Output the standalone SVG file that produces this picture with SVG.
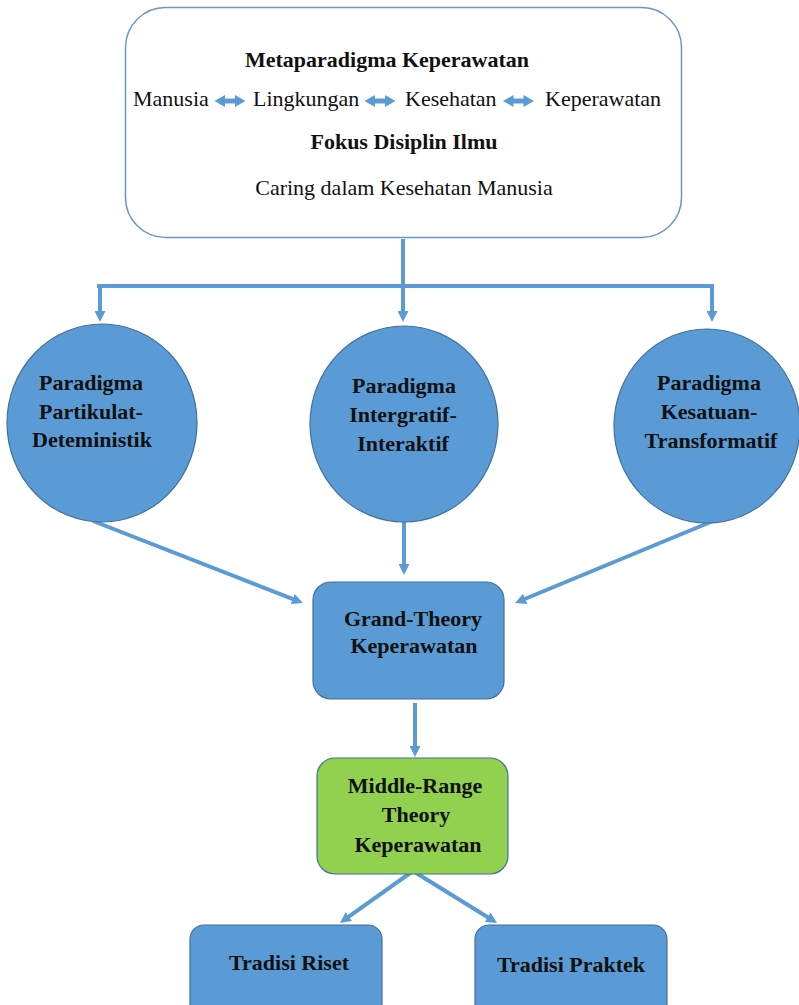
<svg xmlns="http://www.w3.org/2000/svg" width="799" height="1005" viewBox="0 0 799 1005">
<style>
.t{font-family:'Liberation Serif','Tinos','Times New Roman','DejaVu Serif',serif;font-size:22px;fill:#111}
.b{font-weight:bold}
.c{text-anchor:middle}
.box{fill:#5b9bd5;stroke:#41719c;stroke-width:1.2}
.green{fill:#92d050;stroke:#41719c;stroke-width:1.2}
.conn{stroke:#5b9bd5;stroke-width:4;fill:none}
.arr{marker-end:url(#ah)}
</style>
<defs>
<marker id="ah" viewBox="0 0 10 10" markerWidth="11" markerHeight="11" refX="4" refY="5" orient="auto" markerUnits="userSpaceOnUse">
<path d="M0,0 L10,5 L0,10 z" fill="#5b9bd5"/>
</marker>
<path id="dbl" d="M-15.5,0 L-5,-6 L-5,-2.5 L5,-2.5 L5,-6 L15.5,0 L5,6 L5,2.5 L-5,2.5 L-5,6 z" fill="#5b9bd5"/>
</defs>
<rect width="799" height="1005" fill="#fff"/>

<g id="meta">
<rect x="125.5" y="7.5" width="556" height="230" rx="40" ry="40" fill="#fff" stroke="#6a95c9" stroke-width="1.5"/>
<text class="t b c" x="387" y="67" font-family="Liberation Serif, serif">Metaparadigma Keperawatan</text>
<text class="t" x="133" y="106" font-family="Liberation Serif, serif">Manusia</text>
<use href="#dbl" x="230" y="101"/>
<text class="t" x="253" y="106" font-family="Liberation Serif, serif">Lingkungan</text>
<use href="#dbl" x="380" y="101"/>
<text class="t" x="405" y="106" font-family="Liberation Serif, serif">Kesehatan</text>
<use href="#dbl" x="518.5" y="101"/>
<text class="t" x="545" y="106" font-family="Liberation Serif, serif">Keperawatan</text>
<text class="t b c" x="404" y="149" font-family="Liberation Serif, serif">Fokus Disiplin Ilmu</text>
<text class="t c" x="404" y="195" font-family="Liberation Serif, serif">Caring dalam Kesehatan Manusia</text>
</g>

<g id="connectors">
<line class="conn" x1="403" y1="239" x2="403" y2="286"/>
<line class="conn" x1="97" y1="286" x2="714" y2="286"/>
<line class="conn arr" x1="100" y1="284" x2="100" y2="315.4"/>
<line class="conn arr" x1="403" y1="284" x2="403" y2="315.4"/>
<line class="conn arr" x1="712" y1="284" x2="712" y2="315.4"/>
<line class="conn arr" x1="93" y1="521" x2="296.8" y2="600.6"/>
<line class="conn arr" x1="404" y1="521" x2="404" y2="568.4"/>
<line class="conn arr" x1="713" y1="521" x2="521.1" y2="600.5"/>
<line class="conn arr" x1="415" y1="703" x2="415" y2="750.4"/>
<line class="conn arr" x1="413" y1="871" x2="345.3" y2="919.1"/>
<line class="conn arr" x1="413" y1="871" x2="491.4" y2="919.5"/>
</g>

<g id="p1">
<ellipse class="box" cx="102" cy="423" rx="95" ry="99"/>
<text class="t b c" x="91" y="390" font-family="Liberation Serif, serif">Paradigma</text>
<text class="t b c" x="91" y="419" font-family="Liberation Serif, serif">Partikulat-</text>
<text class="t b c" x="92" y="447" font-family="Liberation Serif, serif">Deteministik</text>
</g>

<g id="p2">
<ellipse class="box" cx="404" cy="424" rx="94" ry="98"/>
<text class="t b c" x="404" y="393" font-family="Liberation Serif, serif">Paradigma</text>
<text class="t b c" x="403" y="422" font-family="Liberation Serif, serif">Intergratif-</text>
<text class="t b c" x="403" y="451" font-family="Liberation Serif, serif">Interaktif</text>
</g>

<g id="p3">
<ellipse class="box" cx="707" cy="426" rx="93" ry="97"/>
<text class="t b c" x="709" y="390" font-family="Liberation Serif, serif">Paradigma</text>
<text class="t b c" x="709" y="419" font-family="Liberation Serif, serif">Kesatuan-</text>
<text class="t b c" x="711" y="448" font-family="Liberation Serif, serif">Transformatif</text>
</g>

<g id="grand">
<rect class="box" x="313" y="582" width="191" height="117" rx="18" ry="18"/>
<text class="t b c" x="413" y="626" font-family="Liberation Serif, serif">Grand-Theory</text>
<text class="t b c" x="414" y="653" font-family="Liberation Serif, serif">Keperawatan</text>
</g>

<g id="middle">
<rect class="green" x="317" y="758" width="191" height="116" rx="18" ry="18"/>
<text class="t b c" x="415" y="793" font-family="Liberation Serif, serif">Middle-Range</text>
<text class="t b c" x="416" y="822" font-family="Liberation Serif, serif">Theory</text>
<text class="t b c" x="418" y="852" font-family="Liberation Serif, serif">Keperawatan</text>
</g>

<g id="riset">
<rect class="box" x="190" y="925" width="192" height="100" rx="14" ry="14"/>
<text class="t b c" x="289" y="970" font-family="Liberation Serif, serif">Tradisi Riset</text>
</g>

<g id="praktek">
<rect class="box" x="475" y="925" width="192" height="100" rx="14" ry="14"/>
<text class="t b c" x="571" y="972" font-family="Liberation Serif, serif">Tradisi Praktek</text>
</g>
</svg>
